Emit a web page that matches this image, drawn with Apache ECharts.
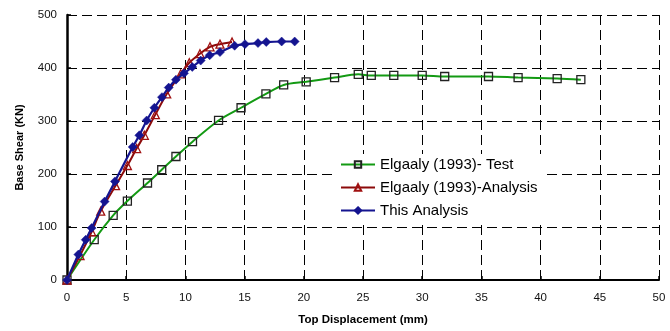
<!DOCTYPE html>
<html><head><meta charset="utf-8">
<script src="https://cdn.jsdelivr.net/npm/echarts@6/dist/echarts.min.js"></script>
<style>html,body{margin:0;padding:0;background:#fff}#c{width:670px;height:331px}</style>
</head><body><div id="c"></div>
<script>
const seriesNames = ["Elgaaly (1993)- Test", "Elgaaly (1993)-Analysis", "This Analysis"];
const testX = [0, 2.3, 3.9, 5.1, 6.8, 8.0, 9.2, 10.6, 12.8, 14.7, 16.8, 18.3, 20.2, 22.6, 24.6, 25.7, 27.6, 30.0, 31.9, 35.6, 38.1, 41.4, 43.4];
const testY = [0, 76, 122, 149, 183, 208, 233, 261, 301, 325, 351, 368, 374, 382, 388, 386, 386, 386, 384, 384, 382, 380, 378];
const anaX = [0, 1.1, 2.08, 2.85, 4.1, 5.1, 5.88, 6.53, 7.46, 8.42, 9.6, 10.33, 11.23, 12.08, 12.92, 13.94];
const anaY = [0, 46, 91, 130, 178, 216, 248, 273, 312, 351, 389, 410, 427, 440, 445, 449];
const thisX = [0, 0.96, 1.58, 2.08, 3.18, 4.05, 5.55, 6.11, 6.73, 7.38, 8.02, 8.59, 9.2, 9.88, 10.58, 11.29, 12.05, 12.92, 14.16, 15.03, 16.13, 16.83, 18.13, 19.23];
const thisY = [0, 48, 76, 98, 148, 186, 251, 273, 301, 325, 345, 363, 378, 390, 402, 414, 424, 430, 442, 445, 447, 449, 450, 450];
const xTicks = [0, 5, 10, 15, 20, 25, 30, 35, 40, 45, 50];
const yTicks = [0, 100, 200, 300, 400, 500];

const zip = (a, b) => a.map((v, i) => [v, b[i]]);
const font = "Liberation Sans, Arial, sans-serif";
const chart = echarts.init(document.getElementById('c'), null, {renderer: 'canvas'});
chart.setOption({
  animation: false,
  backgroundColor: '#fff',
  grid: {left: 67, right: 11, top: 15, bottom: 50},
  legend: {
    orient: 'vertical', left: 336, top: 154,
    backgroundColor: '#fff', padding: [3, 6, 3, 4], itemGap: 8,
    itemWidth: 34, itemHeight: 8,
    textStyle: {fontFamily: font, fontSize: 15, color: '#000'},
    data: seriesNames
  },
  xAxis: {
    type: 'value', min: xTicks[0], max: xTicks[xTicks.length - 1], interval: 5,
    name: 'Top Displacement (mm)', nameLocation: 'middle', nameGap: 34,
    nameTextStyle: {fontFamily: font, fontSize: 11.5, fontWeight: 'bold', color: '#000'},
    axisLine: {show: true, onZero: false, lineStyle: {color: '#000', width: 2}},
    axisTick: {show: true, inside: true, length: 4, lineStyle: {color: '#000', width: 1.5}},
    axisLabel: {fontFamily: font, fontSize: 11.5, color: '#111', margin: 12},
    splitLine: {show: true, lineStyle: {color: '#000', width: 1, type: [10, 5]}}
  },
  yAxis: [{
    type: 'value', min: yTicks[0], max: yTicks[yTicks.length - 1], interval: 100,
    name: 'Base Shear (KN)', nameLocation: 'middle', nameGap: 42,
    nameTextStyle: {fontFamily: font, fontSize: 11, fontWeight: 'bold', color: '#000'},
    axisLine: {show: true, onZero: false, lineStyle: {color: '#000', width: 2.5}},
    axisTick: {show: true, inside: true, length: 4, lineStyle: {color: '#000', width: 1.5}},
    axisLabel: {fontFamily: font, fontSize: 11.5, color: '#111', margin: 10},
    splitLine: {show: true, lineStyle: {color: '#000', width: 1, type: [10, 5]}}
  }, {
    type: 'value', min: 0, max: 500, position: 'right',
    axisLine: {show: true, lineStyle: {color: '#000', width: 1}},
    axisTick: {show: false}, axisLabel: {show: false}, splitLine: {show: false}
  }],
  series: [{
    name: seriesNames[0], type: 'line', data: zip(testX, testY), smooth: 0.3,
    symbol: 'rect', symbolSize: 8, z: 2,
    lineStyle: {color: '#139a13', width: 2},
    itemStyle: {color: 'rgba(255,255,255,0)', borderColor: '#222', borderWidth: 1.3}
  }, {
    name: seriesNames[1], type: 'line', data: zip(anaX, anaY), smooth: 0.3,
    symbol: 'triangle', symbolSize: 8, z: 3,
    lineStyle: {color: '#8c0a0a', width: 2},
    itemStyle: {color: 'rgba(255,255,255,0)', borderColor: '#a01010', borderWidth: 1.3}
  }, {
    name: seriesNames[2], type: 'line', data: zip(thisX, thisY), smooth: 0.3,
    symbol: 'diamond', symbolSize: 9, z: 4,
    lineStyle: {color: '#141490', width: 2.2},
    itemStyle: {color: '#141490', borderColor: '#141490', borderWidth: 0.5}
  }]
});
</script></body></html>
